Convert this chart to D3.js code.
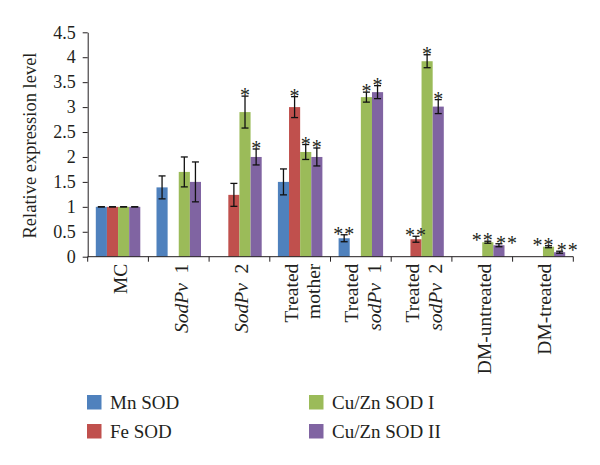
<!DOCTYPE html>
<html>
<head>
<meta charset="utf-8">
<script src="https://cdn.jsdelivr.net/npm/d3@7"></script>
<style>
  body { margin: 0; background: #fff; }
  text { font-family: 'Liberation Serif', 'Times New Roman', serif; fill: #231f20; }
</style>
</head>
<body>
<div id="chart"></div>
<script>
// groups on the x axis
const categories = ['MC', 'SodPv 1', 'SodPv 2', 'Treated mother', 'Treated sodPv 1', 'Treated sodPv 2', 'DM-untreated', 'DM-treated']
const seriesNames = ['Mn SOD', 'Fe SOD', 'Cu/Zn SOD I', 'Cu/Zn SOD II']

const mnSod = [1, 1.39, 0, 1.5, 0.37, 0, 0, 0]
const mnErr = [0, 0.23, 0, 0.26, 0.07, 0, 0, 0]
const mnMark = ['', '', '', '', '**', '', '', '']

const feSod = [1, 0, 1.24, 3.0, 0, 0.35, 0, 0]
const feErr = [0, 0, 0.23, 0.21, 0, 0.06, 0, 0]
const feMark = ['', '', '', '*', '', '**', '', '']

const cuZn1 = [1, 1.7, 2.9, 2.1, 3.2, 3.92, 0.29, 0.2]
const cuZn1Err = [0, 0.3, 0.32, 0.15, 0.1, 0.13, 0.02, 0.02]
const cuZn1Mark = ['', '', '*', '*', '*', '*', '**', '**']

const cuZn2 = [1, 1.5, 2.0, 2.0, 3.3, 3.01, 0.23, 0.09]
const cuZn2Err = [0, 0.4, 0.16, 0.18, 0.13, 0.14, 0.03, 0.02]
const cuZn2Mark = ['', '', '*', '*', '*', '*', '**', '**']

const yTicks = [0, 0.5, 1, 1.5, 2, 2.5, 3, 3.5, 4, 4.5]
const colors = ['#4f81bd', '#c0504d', '#9bbb59', '#8064a2']

const width = 600
const height = 465

const svg = d3
  .select('#chart')
  .append('svg')
  .attr('width', width)
  .attr('height', height)

const yScale = d3.scaleLinear().domain([0, 4.5]).range([256.7, 32.3])
const xScale = d3.scaleBand().domain(categories).range([87.7, 573.3])
const subScale = d3
  .scaleBand()
  .domain(seriesNames)
  .range([8.1, xScale.bandwidth() - 8.1])
const colorScale = d3.scaleOrdinal().domain(seriesNames).range(colors)

const series = [
  { name: seriesNames[0], values: mnSod, errs: mnErr, marks: mnMark },
  { name: seriesNames[1], values: feSod, errs: feErr, marks: feMark },
  { name: seriesNames[2], values: cuZn1, errs: cuZn1Err, marks: cuZn1Mark },
  { name: seriesNames[3], values: cuZn2, errs: cuZn2Err, marks: cuZn2Mark }
]

const rows = []
categories.forEach((cat, i) => {
  series.forEach(s => {
    rows.push({ cat: cat, name: s.name, value: s.values[i], err: s.errs[i], mark: s.marks[i] })
  })
})

// bars
const groups = svg
  .selectAll('.group')
  .data(categories)
  .enter()
  .append('g')
  .attr('class', 'group')
  .attr('transform', d => `translate(${xScale(d)},0)`)

groups
  .selectAll('rect')
  .data(cat => rows.filter(r => r.cat === cat && r.value > 0))
  .enter()
  .append('rect')
  .attr('x', d => subScale(d.name))
  .attr('width', subScale.bandwidth())
  .attr('y', d => yScale(d.value))
  .attr('height', d => yScale(0) - yScale(d.value))
  .attr('fill', d => colorScale(d.name))

// error bars
const errs = groups
  .selectAll('.err')
  .data(cat => rows.filter(r => r.cat === cat && r.value > 0))
  .enter()
  .append('g')
  .attr('class', 'err')
  .attr('stroke', '#111')
  .attr('stroke-width', 1.3)

errs
  .append('line')
  .attr('x1', d => subScale(d.name) + subScale.bandwidth() / 2)
  .attr('x2', d => subScale(d.name) + subScale.bandwidth() / 2)
  .attr('y1', d => yScale(d.value + d.err))
  .attr('y2', d => yScale(d.value - d.err))

errs
  .selectAll('.cap')
  .data(d => [d.value + d.err, d.value - d.err].map(v => ({ name: d.name, v: v })))
  .enter()
  .append('line')
  .attr('x1', d => subScale(d.name) + subScale.bandwidth() / 2 - 3.5)
  .attr('x2', d => subScale(d.name) + subScale.bandwidth() / 2 + 3.5)
  .attr('y1', d => yScale(d.v))
  .attr('y2', d => yScale(d.v))

// significance marks, nudged apart when two double marks sit side by side
groups.each(function(cat) {
  const marks = rows.filter(r => r.cat === cat && r.mark !== '')
  marks.forEach((m, i) => {
    m.cx = subScale(m.name) + subScale.bandwidth() / 2
    const prev = marks[i - 1]
    if (m.mark === '**' && prev && prev.mark === '**') {
      prev.cx -= 5
      m.cx += 8
    }
  })
  d3.select(this)
    .selectAll('.mark')
    .data(marks)
    .enter()
    .append('text')
    .attr('class', 'mark')
    .attr('x', d => d.cx)
    .attr('y', d => yScale(d.value + d.err) + 6)
    .attr('text-anchor', 'middle')
    .style('font-size', '20px')
    .style('letter-spacing', d => (d.mark === '**' ? '1px' : '0px'))
    .text(d => d.mark)
})

// y axis
const yAxis = d3
  .axisLeft(yScale)
  .tickValues(yTicks)
  .tickFormat(d3.format('~g'))
  .tickSize(5)
  .tickSizeOuter(0)
  .tickPadding(7)

svg
  .append('g')
  .attr('transform', `translate(${xScale.range()[0]},0)`)
  .call(yAxis)
  .call(g => g.selectAll('path, line').attr('stroke', '#231f20'))
  .call(g => g.selectAll('text').style('font-size', '18px').style('font-family', "'Liberation Serif', serif").attr('fill', '#231f20'))

svg
  .append('text')
  .attr('transform', `translate(36,${yScale(2.25) + 1}) rotate(-90)`)
  .attr('text-anchor', 'middle')
  .style('font-size', '18.5px')
  .text('Relative expression level')

// x axis line and boundary ticks
svg
  .append('line')
  .attr('x1', xScale.range()[0])
  .attr('x2', xScale.range()[1])
  .attr('y1', yScale(0))
  .attr('y2', yScale(0))
  .attr('stroke', '#231f20')

const bounds = categories.map(c => xScale(c)).concat([xScale.range()[1]])
svg
  .selectAll('.xtick')
  .data(bounds)
  .enter()
  .append('line')
  .attr('x1', d => d)
  .attr('x2', d => d)
  .attr('y1', yScale(0))
  .attr('y2', yScale(0) + 5)
  .attr('stroke', '#231f20')

// x labels: italic gene names, two lines for "Treated ..." groups
function labelLines(cat) {
  if (cat.startsWith('Treated ')) return ['Treated', cat.slice(8)]
  return [cat]
}

function addParts(textSel, line) {
  const m = line.match(/^(sodPv|SodPv)(.*)$/i)
  if (m) {
    textSel.append('tspan').style('font-style', 'italic').text(m[1][0] + 'od')
    textSel.append('tspan').style('font-style', 'italic').text('Pv')
    textSel.append('tspan').text('\u00a0' + m[2])
  } else {
    textSel.text(line)
  }
}

categories.forEach(cat => {
  const lines = labelLines(cat)
  const cx = xScale(cat) + xScale.bandwidth() / 2
  lines.forEach((line, i) => {
    const off = lines.length === 1 ? 2 : (i === 0 ? -9 : 13)
    const t = svg
      .append('text')
      .attr('transform', `translate(${cx + off},${yScale(0) + 7}) rotate(-90)`)
      .attr('text-anchor', 'end')
      .attr('dominant-baseline', 'central')
      .style('font-size', '19.5px')
    addParts(t, line)
  })
})

// legend
const legend = svg
  .selectAll('.legend')
  .data(seriesNames)
  .enter()
  .append('g')
  .attr('class', 'legend')
  .attr('transform', (d, i) => `translate(${i < 2 ? 87 : 309},${i % 2 === 0 ? 395 : 424})`)

legend
  .append('rect')
  .attr('width', 14.5)
  .attr('height', 14.5)
  .attr('fill', d => colorScale(d))

legend
  .append('text')
  .attr('x', 23)
  .attr('y', 14)
  .style('font-size', '19px')
  .text(d => d)
</script>
</body>
</html>
